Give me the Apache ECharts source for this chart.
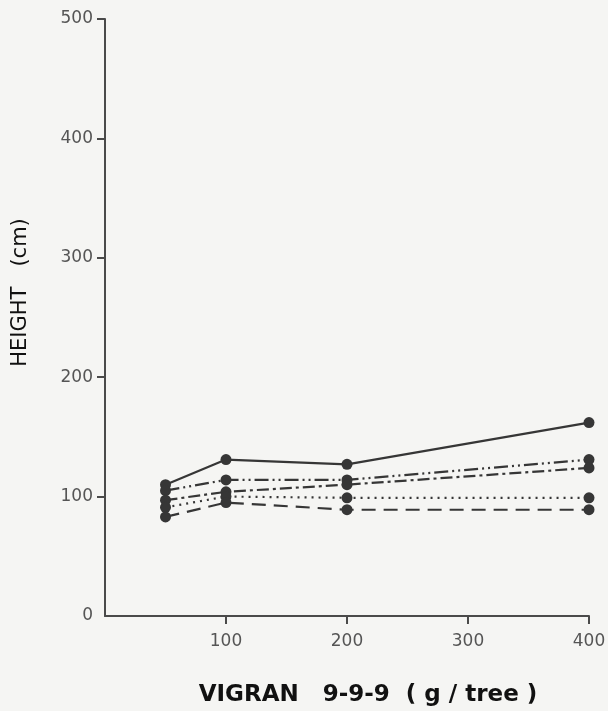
<!DOCTYPE html>
<html>
<head>
<meta charset="utf-8">
<script src="https://cdn.jsdelivr.net/npm/echarts@6/dist/echarts.min.js"></script>
<style>
html,body{margin:0;padding:0;background:#f5f5f3;}
#chart{width:608px;height:711px;}
</style>
</head>
<body>
<div id="chart"></div>
<script>
// values
var doses = [50, 100, 200, 400];
var solidLine = [110, 131, 127, 162];
var dashDotDot = [105, 114, 114, 131];
var dashDot = [97, 104, 110, 124];
var dottedLine = [91, 100, 99, 99];
var dashedLine = [83, 95, 89, 89];
var xTicks = [100, 200, 300, 400];
var yTicks = [0, 100, 200, 300, 400, 500];

function pairs(ys){
	var out = [];
	for(var i=0;i<doses.length;i++){
		out.push([doses[i], ys[i]]);
	}
	return out;
}

var ink = '#363636';
function line(ys, dash){
	return {
		type: 'line',
		data: pairs(ys),
		symbol: 'circle',
		symbolSize: 11,
		itemStyle: {color: ink},
		lineStyle: {color: ink, width: 2.2, type: dash},
		z: 3
	};
}

var myChart = echarts.init(document.getElementById('chart'));
var option = {
	backgroundColor: '#f5f5f3',
	animation: false,
	grid: {left: 105, right: 19, top: 19, bottom: 95, containLabel: false, outerBoundsMode: 'none'},
	xAxis: {
		type: 'value',
		min: 0,
		max: 400,
		interval: 100,
		splitLine: {show: false},
		axisLine: {lineStyle: {color: '#4a4a4a', width: 2}},
		axisTick: {show: true, length: 8, customValues: xTicks, lineStyle: {color: '#4a4a4a', width: 2}},
		axisLabel: {customValues: xTicks, color: '#555', fontSize: 17, fontFamily: 'DejaVu Sans', margin: 17},
		name: 'VIGRAN   9-9-9  ( g / tree )',
		nameLocation: 'middle',
		nameGap: 68,
		nameTextStyle: {color: '#111', fontSize: 23, fontWeight: 'bold', fontFamily: 'DejaVu Sans', padding: [0, 0, 0, 42]}
	},
	yAxis: {
		type: 'value',
		min: 0,
		max: 500,
		interval: 100,
		splitLine: {show: false},
		axisLine: {show: true, lineStyle: {color: '#4a4a4a', width: 2}},
		axisTick: {show: true, length: 8, customValues: yTicks.slice(1), lineStyle: {color: '#4a4a4a', width: 2}},
		axisLabel: {color: '#555', fontSize: 17, fontFamily: 'DejaVu Sans', margin: 12},
		name: 'HEIGHT   (cm)',
		nameLocation: 'middle',
		nameGap: 74,
		nameTextStyle: {color: '#111', fontSize: 21, fontFamily: 'DejaVu Sans', padding: [0, 0, 0, 50]}
	},
	series: [
		line(solidLine, 'solid'),
		line(dashDotDot, [14, 4, 2, 4, 2, 4]),
		line(dashDot, [12, 4, 3, 4]),
		line(dottedLine, [2, 5]),
		line(dashedLine, [14, 8])
	]
};
myChart.setOption(option);
</script>
</body>
</html>
